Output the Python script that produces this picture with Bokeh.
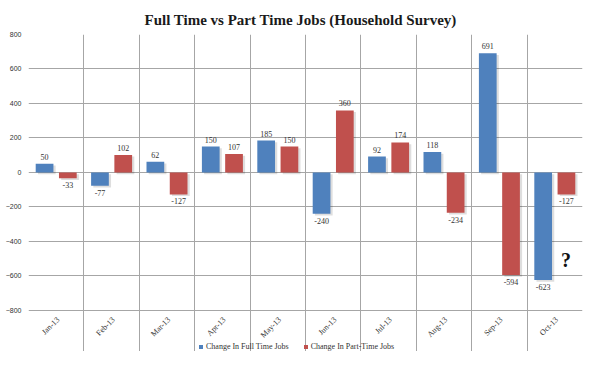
import math
from bokeh.plotting import figure
from bokeh.models import (ColumnDataSource, FixedTicker, Legend, LegendItem, Label, Range1d)
from bokeh.core.properties import value
from bokeh.embed import file_html
from bokeh.resources import INLINE

months = ["Jan-13", "Feb-13", "Mar-13", "Apr-13", "May-13", "Jun-13",
          "Jul-13", "Aug-13", "Sep-13", "Oct-13"]
full_time = [50, -77, 62, 150, 185, -240, 92, 118, 691, -623]
part_time = [-33, 102, -127, 107, 150, 360, 174, -234, -594, -127]
y_ticks = [-800, -600, -400, -200, 0, 200, 400, 600, 800]

BLUE = "#4F81BD"
RED = "#C0504D"
GRID = "#a6a6a6"

n = len(months)
idx = list(range(n))
y_lo, y_hi = y_ticks[0], y_ticks[-1]

def make_src(vals, off):
    xs = [i + off for i in idx]
    return ColumnDataSource(dict(
        x=xs, top=vals,
        sx=[x + 0.04 for x in xs],
        stop=[v - 10 if v > 0 else -10 for v in vals],
        sbot=[-10 if v > 0 else v - 10 for v in vals],
        lab=[str(v) for v in vals],
        ly=vals,
        yoff=[-4 if v > 0 else 4 for v in vals],
        base=["bottom" if v > 0 else "top" for v in vals],
    ))

src_ft = make_src(full_time, 0.29)
src_pt = make_src(part_time, 0.71)
src_months = ColumnDataSource(dict(x=[i + 0.5 for i in idx], y=[y_lo] * n, m=months))

p = figure(width=584, height=351, output_backend="svg", toolbar_location=None,
           x_range=Range1d(0, n), y_range=Range1d(-1038, y_hi),
           x_axis_location=None,
           min_border_left=28, min_border_right=2, min_border_top=34,
           min_border_bottom=0)

p.title.text = "Full Time vs Part Time Jobs (Household Survey)"
p.title.text_font = "Liberation Serif"
p.title.text_font_size = "15px"
p.title.text_font_style = "bold"
p.title.text_color = "#1a1a1a"
p.title.align = "left"
p.title.offset = 116
p.title.standoff = 10
p.title.vertical_align = "top"

p.outline_line_color = None

# grids (bounded to the value range)
p.xgrid.ticker = FixedTicker(ticks=list(range(n + 1)))
p.xgrid.grid_line_color = GRID
p.xgrid.bounds = (y_lo, y_hi)
p.ygrid.ticker = FixedTicker(ticks=y_ticks)
p.ygrid.grid_line_color = GRID

# y axis
p.yaxis.ticker = FixedTicker(ticks=y_ticks)
p.yaxis.axis_line_color = None
p.yaxis.major_tick_line_color = None
p.yaxis.minor_tick_line_color = None
p.yaxis.major_tick_out = 0
p.yaxis.major_label_standoff = 7
p.yaxis.major_label_text_font = "Liberation Sans"
p.yaxis.major_label_text_font_size = "7px"
p.yaxis.major_label_text_color = "#333333"

# month labels (rotated), below the value area
p.text(x="x", y="y", text="m", source=src_months, angle=math.pi / 4,
       x_offset=2, y_offset=8, text_align="right", text_baseline="middle",
       text_font=value("Liberation Serif"), text_font_size="8px",
       text_color="#333333")

# shadows
for s in (src_ft, src_pt):
    p.vbar(x="sx", top="stop", bottom="sbot", width=0.32, source=s,
           fill_color="#000000", fill_alpha=0.13, line_color=None)

r_ft = p.vbar(x="x", top="top", bottom=0, width=0.32, source=src_ft,
              fill_color=BLUE, line_color=None)
r_pt = p.vbar(x="x", top="top", bottom=0, width=0.32, source=src_pt,
              fill_color=RED, line_color=None)

for s in (src_ft, src_pt):
    p.text(x="x", y="ly", text="lab", y_offset="yoff", text_baseline="base",
           text_align="center", source=s, text_font=value("Liberation Serif"),
           text_font_size="8px", text_color="#333333")

q = Label(x=9.7, y=-510, text="?", text_font="Liberation Serif",
          text_font_size="20px", text_font_style="bold", text_align="center",
          text_baseline="middle", text_color="#111111")
p.add_layout(q)

legend = Legend(items=[LegendItem(label="Change In Full Time Jobs", renderers=[r_ft]),
                       LegendItem(label="Change In Part-Time Jobs", renderers=[r_pt])],
                orientation="horizontal", location=(170, 0),
                glyph_width=5, glyph_height=5, label_standoff=3, spacing=14,
                padding=0, margin=0, border_line_color=None,
                background_fill_alpha=0,
                label_text_font="Liberation Serif", label_text_font_size="8px",
                label_text_color="#333333", label_height=10)
p.add_layout(legend, "center")

open("out.html", "w").write(file_html(p, INLINE))
